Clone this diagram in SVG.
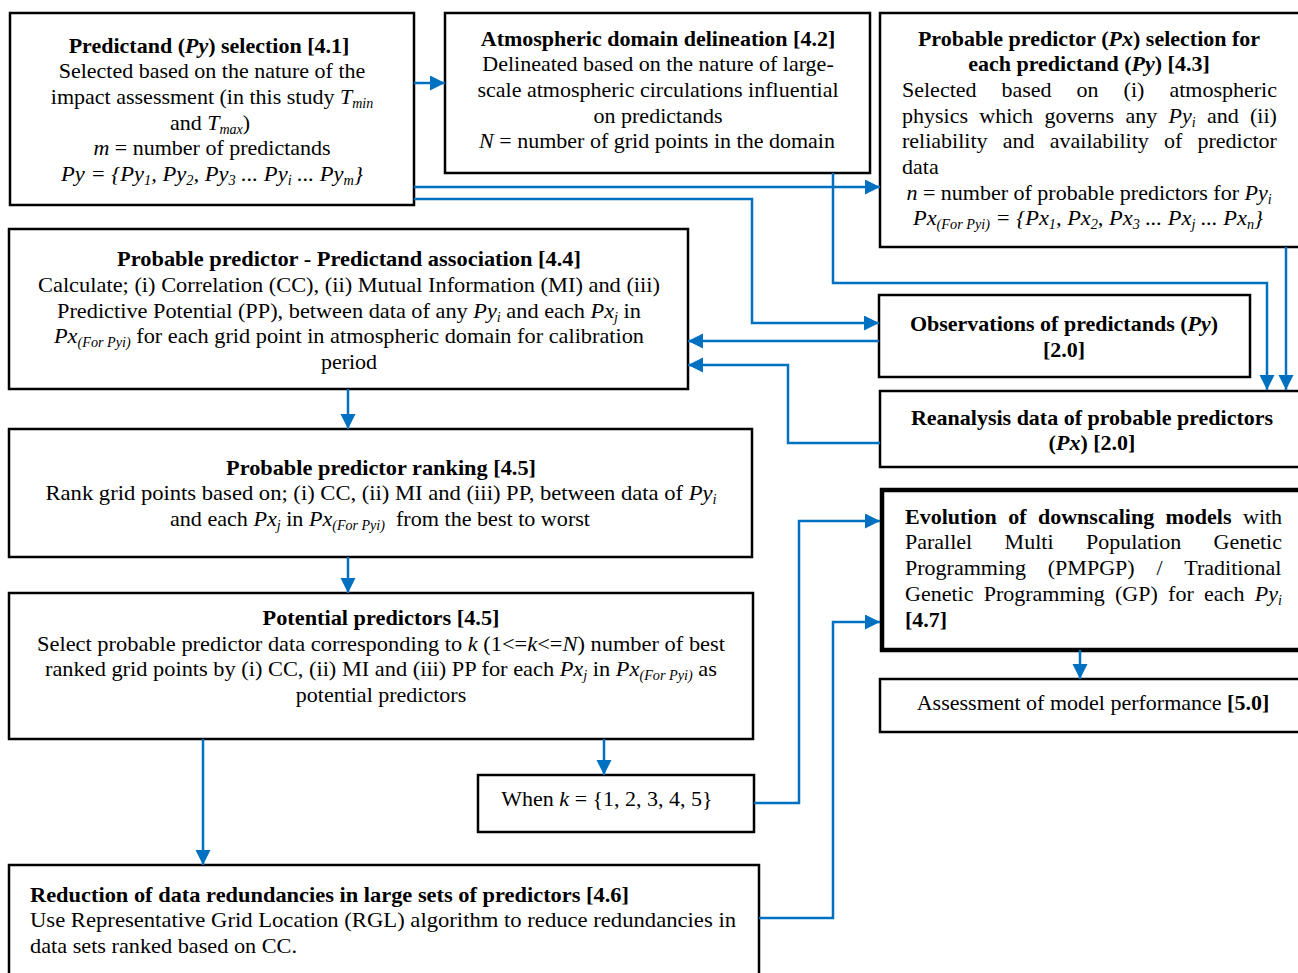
<svg xmlns="http://www.w3.org/2000/svg" width="1298" height="973" viewBox="0 0 1298 973">
<style>
.box{fill:#fff;stroke:#000;stroke-width:2.5}
.thick{stroke-width:4.5}
text{font-family:"Liberation Serif","Times New Roman",serif;font-size:22px;fill:#000}
.c{text-anchor:middle}
.b{font-weight:bold}
.i{font-style:italic}
.s{font-size:14px}
.conn path{fill:none;stroke:#0070C0;stroke-width:2.5;marker-end:url(#ah)}
</style>
<defs>
<marker id="ah" markerUnits="userSpaceOnUse" markerWidth="16" markerHeight="16" refX="15" refY="7.5" orient="auto">
<path d="M0,0 L15,7.5 L0,15 z" fill="#0070C0"/>
</marker>
</defs>
<rect width="1298" height="973" fill="#fff"/>

<g id="n41">
<rect class="box" x="10" y="13" width="404" height="192"/>
<text class="c b" x="209" y="53">Predictand (<tspan class="i">Py</tspan>) selection [4.1]</text>
<text class="c" x="212" y="78">Selected based on the nature of the</text>
<text class="c" x="212" y="104">impact assessment (in this study <tspan class="i">T</tspan><tspan class="i s" dy="4">min</tspan></text>
<text class="c" x="210" y="130">and <tspan class="i">T</tspan><tspan class="i s" dy="4">max</tspan><tspan dy="-4">)</tspan></text>
<text class="c" x="212" y="155"><tspan class="i">m</tspan> = number of predictands</text>
<text class="c i" x="212" y="181" textLength="302" lengthAdjust="spacingAndGlyphs">Py = {Py<tspan class="s" dy="4">1</tspan><tspan dy="-4">, Py</tspan><tspan class="s" dy="4">2</tspan><tspan dy="-4">, Py</tspan><tspan class="s" dy="4">3</tspan><tspan dy="-4"> ... Py</tspan><tspan class="s" dy="4">i</tspan><tspan dy="-4"> ... Py</tspan><tspan class="s" dy="4">m</tspan><tspan dy="-4">}</tspan></text>
</g>

<g id="n42">
<rect class="box" x="445" y="13" width="425" height="160"/>
<text class="c b" x="658" y="46">Atmospheric domain delineation [4.2]</text>
<text class="c" x="658" y="71">Delineated based on the nature of large-</text>
<text class="c" x="658" y="97">scale atmospheric circulations influential</text>
<text class="c" x="658" y="123">on predictands</text>
<text class="c" x="657" y="148"><tspan class="i">N</tspan> = number of grid points in the domain</text>
</g>

<g id="n43">
<rect class="box" x="880" y="13" width="430" height="234"/>
<text class="c b" x="1089" y="46">Probable predictor (<tspan class="i">Px</tspan>) selection for</text>
<text class="c b" x="1089" y="71">each predictand (<tspan class="i">Py</tspan>) [4.3]</text>
<text y="97"><tspan x="902">Selected</tspan><tspan x="1001.5">based</tspan><tspan x="1076.6">on</tspan><tspan x="1123.6">(i)</tspan><tspan x="1169.4">atmospheric</tspan></text>
<text y="123"><tspan x="902">physics</tspan><tspan x="979.3">which</tspan><tspan x="1044.4">governs</tspan><tspan x="1125.4">any</tspan><tspan x="1168.5" class="i">Py</tspan><tspan class="i s" dy="4">i</tspan><tspan x="1206.9" dy="-4">and</tspan><tspan x="1250">(ii)</tspan></text>
<text y="148"><tspan x="902">reliability</tspan><tspan x="1002.8">and</tspan><tspan x="1049.8">availability</tspan><tspan x="1164">of</tspan><tspan x="1197.5">predictor</tspan></text>
<text x="902" y="174">data</text>
<text class="c" x="1089" y="200"><tspan class="i">n</tspan> = number of probable predictors for <tspan class="i">Py</tspan><tspan class="i s" dy="4">i</tspan></text>
<text class="c i" x="1088" y="225" textLength="350" lengthAdjust="spacingAndGlyphs">Px<tspan class="s" dy="4">(For Pyi)</tspan><tspan dy="-4"> = {Px</tspan><tspan class="s" dy="4">1</tspan><tspan dy="-4">, Px</tspan><tspan class="s" dy="4">2</tspan><tspan dy="-4">, Px</tspan><tspan class="s" dy="4">3</tspan><tspan dy="-4"> ... Px</tspan><tspan class="s" dy="4">j</tspan><tspan dy="-4"> ... Px</tspan><tspan class="s" dy="4">n</tspan><tspan dy="-4">}</tspan></text>
</g>

<g id="n44">
<rect class="box" x="9" y="229" width="679" height="160"/>
<text class="c b" x="349" y="266" textLength="464" lengthAdjust="spacingAndGlyphs">Probable predictor - Predictand association [4.4]</text>
<text class="c" x="349" y="292" textLength="622" lengthAdjust="spacingAndGlyphs">Calculate; (i) Correlation (CC), (ii) Mutual Information (MI) and (iii)</text>
<text class="c" x="349" y="318" textLength="584" lengthAdjust="spacingAndGlyphs">Predictive Potential (PP), between data of any <tspan class="i">Py</tspan><tspan class="i s" dy="4">i</tspan><tspan dy="-4"> and each </tspan><tspan class="i">Px</tspan><tspan class="i s" dy="4">j</tspan><tspan dy="-4"> in</tspan></text>
<text class="c" x="349" y="343" textLength="590" lengthAdjust="spacingAndGlyphs"><tspan class="i">Px</tspan><tspan class="i s" dy="4">(For Pyi)</tspan><tspan dy="-4"> for each grid point in atmospheric domain for calibration</tspan></text>
<text class="c" x="349" y="369">period</text>
</g>

<g id="nObs">
<rect class="box" x="879" y="295" width="371" height="82"/>
<text class="c b" x="1064" y="331">Observations of predictands (<tspan class="i">Py</tspan>)</text>
<text class="c b" x="1064" y="357">[2.0]</text>
</g>

<g id="nRea">
<rect class="box" x="880" y="391" width="430" height="76"/>
<text class="c b" x="1092" y="425">Reanalysis data of probable predictors</text>
<text class="c b" x="1092" y="450">(<tspan class="i">Px</tspan>) [2.0]</text>
</g>

<g id="n45r">
<rect class="box" x="9" y="429" width="743" height="128"/>
<text class="c b" x="381" y="475" textLength="310" lengthAdjust="spacingAndGlyphs">Probable predictor ranking [4.5]</text>
<text class="c" x="381" y="500" textLength="671" lengthAdjust="spacingAndGlyphs">Rank grid points based on; (i) CC, (ii) MI and (iii) PP, between data of <tspan class="i">Py</tspan><tspan class="i s" dy="4">i</tspan></text>
<text class="c" x="380" y="526" textLength="420" lengthAdjust="spacingAndGlyphs">and each <tspan class="i">Px</tspan><tspan class="i s" dy="4">j</tspan><tspan dy="-4"> in </tspan><tspan class="i">Px</tspan><tspan class="i s" dy="4">(For Pyi)</tspan><tspan dy="-4"> &#160;from the best to worst</tspan></text>
</g>

<g id="n45p">
<rect class="box" x="9" y="593" width="744" height="146"/>
<text class="c b" x="381" y="625" textLength="237" lengthAdjust="spacingAndGlyphs">Potential predictors [4.5]</text>
<text class="c" x="381" y="651" textLength="688" lengthAdjust="spacingAndGlyphs">Select probable predictor data corresponding to <tspan class="i">k</tspan> (1&lt;=<tspan class="i">k</tspan>&lt;=<tspan class="i">N</tspan>) number of best</text>
<text class="c" x="381" y="676" textLength="672" lengthAdjust="spacingAndGlyphs">ranked grid points by (i) CC, (ii) MI and (iii) PP for each <tspan class="i">Px</tspan><tspan class="i s" dy="4">j</tspan><tspan dy="-4"> in </tspan><tspan class="i">Px</tspan><tspan class="i s" dy="4">(For Pyi)</tspan><tspan dy="-4"> as</tspan></text>
<text class="c" x="381" y="702">potential predictors</text>
</g>

<g id="nK">
<rect class="box" x="478" y="775" width="276" height="57"/>
<text class="c" x="607" y="806">When <tspan class="i">k</tspan> = {1, 2, 3, 4, 5}</text>
</g>

<g id="n46">
<rect class="box" x="9" y="865" width="750" height="120"/>
<text class="b" x="30" y="902" textLength="599" lengthAdjust="spacingAndGlyphs">Reduction of data redundancies in large sets of predictors [4.6]</text>
<text x="30" y="927" textLength="706" lengthAdjust="spacingAndGlyphs">Use Representative Grid Location (RGL) algorithm to reduce redundancies in</text>
<text x="30" y="953" textLength="267" lengthAdjust="spacingAndGlyphs">data sets ranked based on CC.</text>
</g>

<g id="n47">
<rect class="box thick" x="882" y="490" width="430" height="160"/>
<text y="524"><tspan class="b" x="905">Evolution</tspan><tspan class="b" x="1008.2">of</tspan><tspan class="b" x="1038">downscaling</tspan><tspan class="b" x="1165.5">models</tspan><tspan x="1243">with</tspan></text>
<text y="549"><tspan x="905">Parallel</tspan><tspan x="1004.6">Multi</tspan><tspan x="1085.9">Population</tspan><tspan x="1213.6">Genetic</tspan></text>
<text y="575"><tspan x="905">Programming</tspan><tspan x="1047.8">(PMPGP)</tspan><tspan x="1156.4">/</tspan><tspan x="1184.3">Traditional</tspan></text>
<text y="601"><tspan x="905">Genetic</tspan><tspan x="983.7">Programming</tspan><tspan x="1115">(GP)</tspan><tspan x="1168.1">for</tspan><tspan x="1204.1">each</tspan><tspan x="1254.7" class="i">Py</tspan><tspan class="i s" dy="4">i</tspan></text>
<text class="b" x="905" y="627">[4.7]</text>
</g>

<g id="n50">
<rect class="box" x="880" y="679" width="430" height="53"/>
<text class="c" x="1093" y="710">Assessment of model performance <tspan class="b">[5.0]</tspan></text>
</g>

<g id="connectors" class="conn">
<path d="M414,83 H445"/>
<path d="M414,187 H880"/>
<path d="M414,199 H752 V323 H879"/>
<path d="M833,173 V283 H1267 V390"/>
<path d="M1286,247 V390"/>
<path d="M879,341 H688"/>
<path d="M880,443 H788 V365 H688"/>
<path d="M348,389 V429"/>
<path d="M348,557 V593"/>
<path d="M604,739 V775"/>
<path d="M203,739 V865"/>
<path d="M754,803 H799 V521 H880"/>
<path d="M759,918 H833 V622 H880"/>
<path d="M1080,650 V679"/>
</g>
</svg>
